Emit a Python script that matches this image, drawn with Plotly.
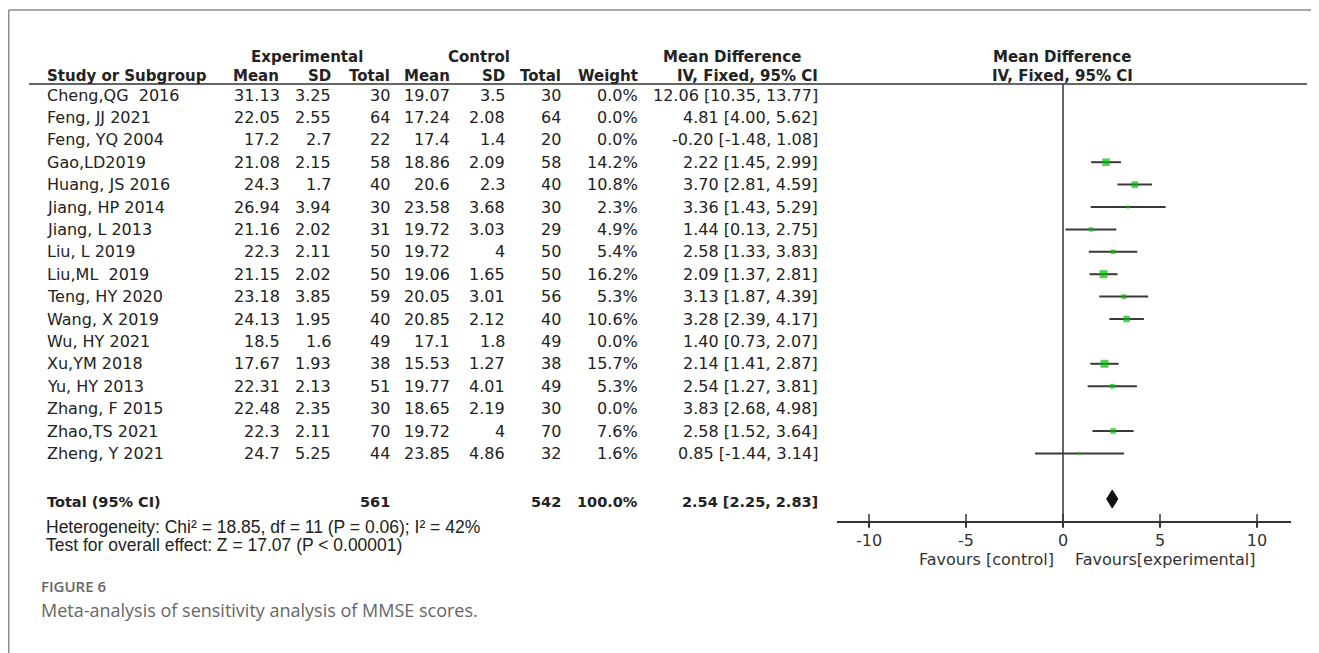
import math
import plotly.graph_objects as go

# page body has an 8px margin: the figure is drawn 8px in from the viewport corner
OFF = 8
WF, HF = 1319 - OFF, 653 - OFF

# ---------------- data ----------------
studies = ["Cheng,QG\u00a0 2016", "Feng, JJ 2021", "Feng, YQ 2004", "Gao,LD2019", "Huang, JS 2016",
           "Jiang, HP 2014", "Jiang, L 2013", "Liu, L 2019", "Liu,ML\u00a0 2019", "Teng, HY 2020",
           "Wang, X 2019", "Wu, HY 2021", "Xu,YM 2018", "Yu, HY 2013", "Zhang, F 2015",
           "Zhao,TS 2021", "Zheng, Y 2021"]
exp_mean = [31.13, 22.05, 17.2, 21.08, 24.3, 26.94, 21.16, 22.3, 21.15, 23.18, 24.13, 18.5, 17.67, 22.31, 22.48, 22.3, 24.7]
exp_sd = [3.25, 2.55, 2.7, 2.15, 1.7, 3.94, 2.02, 2.11, 2.02, 3.85, 1.95, 1.6, 1.93, 2.13, 2.35, 2.11, 5.25]
exp_n = [30, 64, 22, 58, 40, 30, 31, 50, 50, 59, 40, 49, 38, 51, 30, 70, 44]
ctl_mean = [19.07, 17.24, 17.4, 18.86, 20.6, 23.58, 19.72, 19.72, 19.06, 20.05, 20.85, 17.1, 15.53, 19.77, 18.65, 19.72, 23.85]
ctl_sd = [3.5, 2.08, 1.4, 2.09, 2.3, 3.68, 3.03, 4, 1.65, 3.01, 2.12, 1.8, 1.27, 4.01, 2.19, 4, 4.86]
ctl_n = [30, 64, 20, 58, 40, 30, 29, 50, 50, 56, 40, 49, 38, 49, 30, 70, 32]
weight = [0.0, 0.0, 0.0, 14.2, 10.8, 2.3, 4.9, 5.4, 16.2, 5.3, 10.6, 0.0, 15.7, 5.3, 0.0, 7.6, 1.6]
md = [12.06, 4.81, -0.20, 2.22, 3.70, 3.36, 1.44, 2.58, 2.09, 3.13, 3.28, 1.40, 2.14, 2.54, 3.83, 2.58, 0.85]
ci_lo = [10.35, 4.00, -1.48, 1.45, 2.81, 1.43, 0.13, 1.33, 1.37, 1.87, 2.39, 0.73, 1.41, 1.27, 2.68, 1.52, -1.44]
ci_hi = [13.77, 5.62, 1.08, 2.99, 4.59, 5.29, 2.75, 3.83, 2.81, 4.39, 4.17, 2.07, 2.87, 3.81, 4.98, 3.64, 3.14]

total_exp_n = 561
total_ctl_n = 542
total_weight = 100.0
total_md = 2.54
total_lo = 2.25
total_hi = 2.83

axis_ticks = [-10, -5, 0, 5, 10]
heterogeneity = "Heterogeneity: Chi\u00b2 = 18.85, df = 11 (P = 0.06); I\u00b2 = 42%"
overall = "Test for overall effect: Z = 17.07 (P < 0.00001)"
fig_label = "FIGURE 6"
caption = "Meta-analysis of sensitivity analysis of MMSE scores."

# ---------------- layout geometry (screen pixels) ----------------
Y0, DY = 95.0, 22.4          # first study row centre, row pitch
def ry(p):                    # screen pixel y -> row units
    return (p - Y0) / DY
def X(p):                     # screen pixel x -> paper x
    return (p - OFF) / WF
def YP(p):                    # screen pixel y -> paper y
    return 1 - (p - OFF) / HF

ZERO_PX, UNIT_PX = 1063.0, 19.4
AX_L, AX_R = 837.0, 1291.0
AXIS_Y = 522.0
HEAD_LINE_Y = 84.0

TXT = "#222222"
FONT = "DejaVu Sans"
ARIAL = "Liberation Sans"

ann = []
def txt(xp, y, text, anchor="right", size=16, family=FONT, color=TXT, bold=False, weight=None):
    f = dict(family=family, size=size, color=color)
    if weight:
        f["weight"] = weight
    ann.append(dict(xref="paper", yref="y", x=X(xp), y=y,
                    text=("<b>%s</b>" % text) if bold else text,
                    xanchor=anchor, yanchor="middle", showarrow=False, font=f))

def fmt(v):
    return f"{v:g}"

# headers
h1 = ry(57)
h2 = ry(76)
txt(307, h1, "Experimental", "center", 15, bold=True)
txt(479, h1, "Control", "center", 15, bold=True)
txt(732, h1, "Mean Difference", "center", 15, bold=True)
txt(1062, h1, "Mean Difference", "center", 15, bold=True)
txt(45, h2, "Study or Subgroup", "left", 15, bold=True)
for xp, lab in [(281, "Mean"), (333, "SD"), (392, "Total"), (452, "Mean"), (507, "SD"),
                (563, "Total"), (640, "Weight"), (820, "IV, Fixed, 95% CI")]:
    txt(xp, h2, lab, "right", 15, bold=True)
txt(1062, h2, "IV, Fixed, 95% CI", "center", 15, bold=True)

# study rows
for i, s in enumerate(studies):
    txt(45, i, s, "left")
    txt(282, i, fmt(exp_mean[i]))
    txt(333, i, fmt(exp_sd[i]))
    txt(392, i, str(exp_n[i]))
    txt(452, i, fmt(ctl_mean[i]))
    txt(507, i, fmt(ctl_sd[i]))
    txt(563, i, str(ctl_n[i]))
    txt(640, i, f"{weight[i]:.1f}%")
    txt(820, i, f"{md[i]:.2f} [{ci_lo[i]:.2f}, {ci_hi[i]:.2f}]")

# total row
tr = ry(502)
txt(45, tr, "Total (95% CI)", "left", 14.5, bold=True)
txt(392, tr, str(total_exp_n), "right", 14.5, bold=True)
txt(563, tr, str(total_ctl_n), "right", 14.5, bold=True)
txt(640, tr, f"{total_weight:.1f}%", "right", 14.5, bold=True)
txt(820, tr, f"{total_md:.2f} [{total_lo:.2f}, {total_hi:.2f}]", "right", 14.5, bold=True)
txt(44, ry(527), heterogeneity, "left", 17.5, ARIAL)
txt(44, ry(545), overall, "left", 17.5, ARIAL)

# favours labels
txt(1056, ry(559), "Favours [control]", "right", 16, FONT, "#333333")
txt(1073, ry(559), "Favours[experimental]", "left", 16, FONT, "#333333")

# caption
txt(39, ry(586), fig_label, "left", 15, "Open Sans", "#666666", weight=600)
txt(39, ry(610), caption, "left", 18, "Open Sans", "#666666")

# ---------------- forest marks ----------------
fig = go.Figure()

# line of no effect
fig.add_trace(go.Scatter(x=[0, 0], y=[ry(HEAD_LINE_Y), ry(AXIS_Y)], mode="lines",
                         line=dict(color="#333333", width=1.5), hoverinfo="skip", showlegend=False))

# CI lines for studies carrying weight
cx, cy = [], []
for i in range(len(studies)):
    if weight[i] > 0:
        cx += [ci_lo[i], ci_hi[i], None]
        cy += [i, i, None]
fig.add_trace(go.Scatter(x=cx, y=cy, mode="lines", line=dict(color="#3a3a3a", width=2),
                         hoverinfo="skip", showlegend=False))

# weighted squares
idx = [i for i in range(len(studies)) if weight[i] > 0]
fig.add_trace(go.Scatter(x=[md[i] for i in idx], y=idx, mode="markers",
                         marker=dict(symbol="square", color="#00c000",
                                     size=[2 * math.sqrt(weight[i]) for i in idx],
                                     line=dict(width=0)),
                         hoverinfo="skip", showlegend=False))

# pooled diamond
dr = ry(499)
dh = 9.0 / DY
fig.add_trace(go.Scatter(x=[total_lo, total_md, total_hi, total_md, total_lo],
                         y=[dr, dr - dh, dr, dr + dh, dr], mode="lines", fill="toself",
                         fillcolor="#111111", line=dict(color="#111111", width=1),
                         hoverinfo="skip", showlegend=False))

# tick marks crossing the axis
fig.add_trace(go.Scatter(x=axis_ticks, y=[ry(AXIS_Y) - 1.0 / DY] * len(axis_ticks), mode="markers",
                         marker=dict(symbol="line-ns", size=10, line=dict(color="#333333", width=1.5)),
                         hoverinfo="skip", showlegend=False))

shapes = [
    dict(type="line", xref="paper", yref="paper", x0=0.7 / WF, x1=1, y0=YP(10), y1=YP(10),
         line=dict(color="#8a8a8a", width=1.5)),
    dict(type="line", xref="paper", yref="paper", x0=0.7 / WF, x1=0.7 / WF, y0=0, y1=YP(10),
         line=dict(color="#8a8a8a", width=1.5)),
    dict(type="line", xref="paper", yref="paper", x0=X(29), x1=X(1307),
         y0=YP(HEAD_LINE_Y), y1=YP(HEAD_LINE_Y), line=dict(color="#333333", width=1.5)),
]

fig.update_layout(
    width=WF, height=HF, autosize=False,
    margin=dict(l=0, r=0, t=0, b=0),
    paper_bgcolor="white", plot_bgcolor="rgba(0,0,0,0)",
    showlegend=False,
    annotations=ann, shapes=shapes,
    xaxis=dict(domain=[X(AX_L), X(AX_R)],
               range=[(AX_L - ZERO_PX) / UNIT_PX, (AX_R - ZERO_PX) / UNIT_PX],
               anchor="free", position=YP(AXIS_Y),
               showline=True, linecolor="#333333", linewidth=1.5,
               tickvals=axis_ticks, ticktext=[str(t) for t in axis_ticks],
               ticks="outside", ticklen=4, tickwidth=1.5, tickcolor="#333333",
               tickfont=dict(family=FONT, size=16, color="#333333"),
               showgrid=False, zeroline=False, fixedrange=True),
    yaxis=dict(domain=[0, 1], range=[ry(OFF + HF), ry(OFF)], visible=False, fixedrange=True),
)

fig.write_html("out.html")
